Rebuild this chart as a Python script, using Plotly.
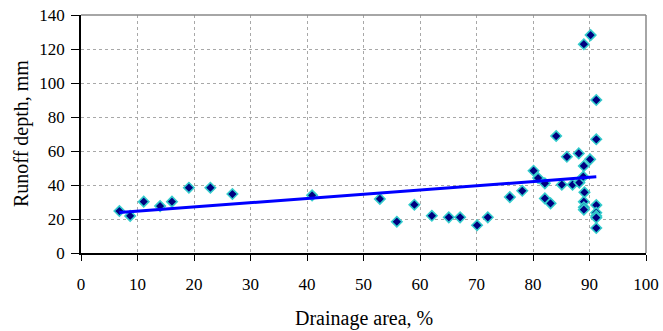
import plotly.graph_objects as go

drainage_area = [6.8, 8.7, 11.1, 14.0, 16.1, 19.1, 22.9, 26.8, 40.9, 52.9, 55.9, 59.0,
                 62.1, 65.1, 67.1, 70.1, 72.0, 75.9, 78.1, 80.1, 80.9, 82.1, 82.1, 83.1,
                 84.1, 85.1, 86.0, 87.0, 88.1, 88.2, 88.9, 89.0, 89.1, 89.0, 89.0, 89.0,
                 89.0, 90.1, 90.2, 91.2, 91.2, 91.2, 91.2, 91.2, 91.2, 91.2]
runoff_depth = [24.7, 21.8, 30.2, 27.6, 30.2, 38.4, 38.4, 34.7, 33.9, 31.8, 18.4, 28.4,
                21.9, 21.0, 21.0, 16.3, 21.0, 32.9, 36.6, 48.4, 44.1, 41.0, 32.1, 29.2,
                68.8, 40.2, 56.6, 40.2, 58.6, 41.4, 44.9, 51.2, 35.7, 30.2, 26.9, 25.5,
                122.8, 55.1, 128.2, 90.0, 66.9, 28.2, 23.7, 21.8, 20.8, 14.7]
trend_x = [6.8, 91.2]
trend_y = [23.8, 44.8]
x_ticks = [0, 10, 20, 30, 40, 50, 60, 70, 80, 90, 100]
y_ticks = [0, 20, 40, 60, 80, 100, 120, 140]

font_family = "Liberation Serif, Times New Roman, serif"
tick_font = dict(family=font_family, size=17, color="black")
title_font = dict(family=font_family, size=20, color="black")

fig = go.Figure()
fig.add_trace(go.Scatter(
    x=drainage_area, y=runoff_depth, mode="markers",
    marker=dict(symbol="diamond", size=8, color="#000080",
                line=dict(color="#33CCCC", width=1.6)),
    showlegend=False))
fig.add_trace(go.Scatter(
    x=trend_x, y=trend_y, mode="lines",
    line=dict(color="#0000FF", width=3), showlegend=False))

fig.update_layout(
    width=663, height=331,
    margin=dict(l=81, r=17, t=15, b=78, autoexpand=False),
    paper_bgcolor="white", plot_bgcolor="white",
    font=dict(family=font_family, size=17, color="black"),
    shapes=[
        dict(type="line", xref="paper", yref="paper", x0=0, x1=1, y0=1, y1=1,
             line=dict(color="#888888", width=1.5)),
        dict(type="line", xref="paper", yref="paper", x0=1, x1=1, y0=0, y1=1,
             line=dict(color="#888888", width=1.5)),
    ],
    annotations=[
        dict(text="Drainage area, %", xref="paper", yref="paper", x=0.5, y=0,
             yshift=-65, showarrow=False, yanchor="middle", font=title_font),
        dict(text="Runoff depth, mm", xref="paper", yref="paper", x=0, y=0.5,
             xshift=-60, showarrow=False, textangle=-90, xanchor="center",
             font=title_font),
    ],
)
fig.update_xaxes(
    range=[0, 100], tickvals=x_ticks, ticks="outside", ticklen=6, tickcolor="black",
    showline=True, linecolor="black", linewidth=1.5, automargin=False,
    showgrid=True, gridcolor="#A8A8A8", griddash="3px,3px", gridwidth=1,
    zeroline=False, tickfont=tick_font, ticklabelstandoff=9)
fig.update_yaxes(
    range=[0, 140], tickvals=y_ticks, ticks="outside", ticklen=8, tickcolor="black",
    showline=True, linecolor="black", linewidth=1.5, automargin=False,
    showgrid=True, gridcolor="#A8A8A8", griddash="3px,3px", gridwidth=1,
    zeroline=False, tickfont=tick_font, ticklabelstandoff=3)

fig.write_html("out.html", config={"displayModeBar": False},
               post_script="document.body.style.margin='0';document.body.style.overflow='hidden';")
